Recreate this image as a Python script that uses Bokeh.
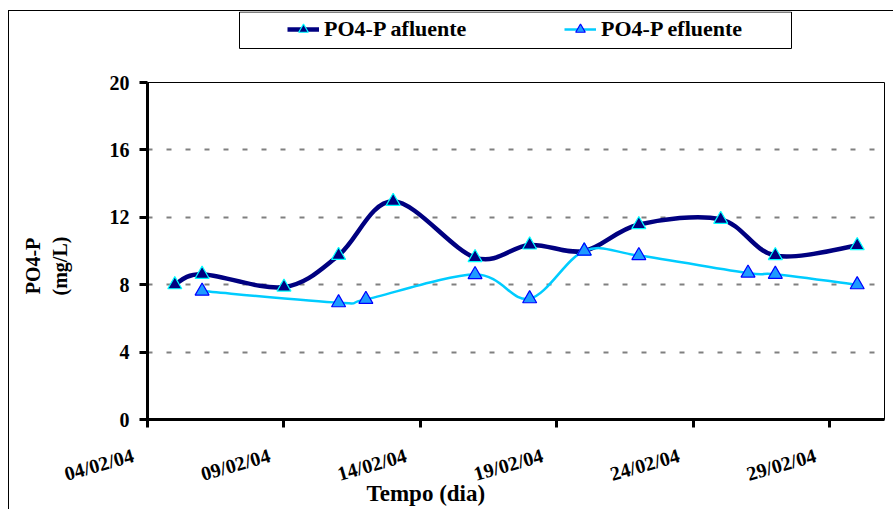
from datetime import datetime
from bokeh.plotting import figure
from bokeh.layouts import column
from bokeh.models import (ColumnDataSource, Range1d, FixedTicker, Legend, LegendItem, Title,
                          BoxAnnotation)
from bokeh.embed import file_html
from bokeh.resources import INLINE

# ---- data ----
afl_dates = ["2004-02-05", "2004-02-06", "2004-02-09", "2004-02-11", "2004-02-13", "2004-02-16",
             "2004-02-18", "2004-02-20", "2004-02-22", "2004-02-25", "2004-02-27", "2004-03-01"]
afl_values = [8.0, 8.62, 7.86, 9.74, 12.95, 9.61, 10.36, 10.0, 11.57, 11.88, 9.73, 10.32]

efl_dates = ["2004-02-06", "2004-02-11", "2004-02-12", "2004-02-16", "2004-02-18", "2004-02-20",
             "2004-02-22", "2004-02-26", "2004-02-27", "2004-03-01"]
efl_values = [7.62, 6.93, 7.13, 8.60, 7.17, 10.0, 9.73, 8.69, 8.62, 8.00]

tick_dates = ["2004-02-04", "2004-02-09", "2004-02-14", "2004-02-19", "2004-02-24", "2004-02-29"]
tick_labels = ["04/02/04", "09/02/04", "14/02/04", "19/02/04", "24/02/04", "29/02/04"]
y_ticks = [0, 4, 8, 12, 16, 20]

x_start, x_end = "2004-02-04", "2004-03-02"
series_names = ["PO4-P afluente", "PO4-P efluente"]
y_title_lines = ["PO4-P", "(mg/L)"]
x_title = "Tempo (dia)"


def ms(s):
    d = datetime.strptime(s, "%Y-%m-%d")
    return (d - datetime(1970, 1, 1)).total_seconds() * 1000.0


def bezier_source(xs, ys):
    # smoothed (Catmull-Rom style) curve expressed as cubic Bezier segments
    n = len(xs)
    d = dict(x0=[], y0=[], x1=[], y1=[], cx0=[], cy0=[], cx1=[], cy1=[])
    for i in range(n - 1):
        p0 = (xs[max(i - 1, 0)], ys[max(i - 1, 0)])
        p1 = (xs[i], ys[i])
        p2 = (xs[i + 1], ys[i + 1])
        p3 = (xs[min(i + 2, n - 1)], ys[min(i + 2, n - 1)])
        d["x0"].append(p1[0]); d["y0"].append(p1[1])
        d["x1"].append(p2[0]); d["y1"].append(p2[1])
        d["cx0"].append(p1[0] + (p2[0] - p0[0]) / 6.0)
        d["cy0"].append(p1[1] + (p2[1] - p0[1]) / 6.0)
        d["cx1"].append(p2[0] - (p3[0] - p1[0]) / 6.0)
        d["cy1"].append(p2[1] - (p3[1] - p1[1]) / 6.0)
    return ColumnDataSource(d)


afl_x = [ms(s) for s in afl_dates]
efl_x = [ms(s) for s in efl_dates]
tick_x = [ms(s) for s in tick_dates]

FONT = "Liberation Serif"
AFL_LINE = "#000080"
AFL_MARK_LINE = "#00FFFF"
EFL_LINE = "#00CCFF"
EFL_FILL = "#1E9BFF"
EFL_MARK_LINE = "#0000FF"
NBSP = "\u00a0"

X_RANGE = (ms(x_start), ms(x_end))

# ---------------- legend strip ----------------
top = figure(width=884, height=38, x_range=Range1d(*X_RANGE), y_range=Range1d(0, 20),
             x_axis_location=None, y_axis_location=None, output_backend="svg",
             toolbar_location=None, min_border_left=138, min_border_right=9,
             min_border_top=0, min_border_bottom=0)
top.grid.visible = False
top.outline_line_color = None
top.background_fill_color = "white"
top.border_fill_color = "white"

# legend box
top.add_layout(BoxAnnotation(left=230, right=782, top=0.5, bottom=37,
                             left_units="canvas", right_units="canvas",
                             top_units="canvas", bottom_units="canvas",
                             fill_alpha=0, line_color="black", line_width=1, line_alpha=1))

# legend sample renderers (the strip's y-range keeps their data out of view)
la_line = top.line(afl_x, afl_values, line_color=AFL_LINE, line_width=4.5)
la_pts = top.scatter(afl_x, afl_values, marker="triangle", size=12, fill_color=AFL_LINE,
                     line_color=AFL_MARK_LINE, line_width=1.2)
le_line = top.line(efl_x, efl_values, line_color=EFL_LINE, line_width=2.5)
le_pts = top.scatter(efl_x, efl_values, marker="triangle", size=12, fill_color=EFL_FILL,
                     line_color=EFL_MARK_LINE, line_width=1.2)
top.y_range = Range1d(100, 120)

legend = Legend(items=[LegendItem(label=series_names[0], renderers=[la_line, la_pts]),
                       LegendItem(label=series_names[1], renderers=[le_line, le_pts])],
                orientation="horizontal", location=(140, 7), padding=0, margin=0,
                spacing=95, glyph_width=32, glyph_height=24, label_standoff=5, label_width=145,
                border_line_alpha=0, background_fill_alpha=0,
                label_text_font=FONT, label_text_font_style="bold", label_text_font_size="22px",
                label_text_color="black")
top.add_layout(legend)

# ---------------- main chart ----------------
p = figure(width=884, height=460, x_axis_type="datetime",
           x_range=Range1d(*X_RANGE), y_range=Range1d(0, 20),
           output_backend="svg", toolbar_location=None,
           min_border_left=138, min_border_right=9, min_border_top=33, min_border_bottom=90)

p.background_fill_color = "white"
p.border_fill_color = "white"
p.outline_line_color = "black"
p.outline_line_width = 1

p.xgrid.grid_line_color = None
p.ygrid.ticker = FixedTicker(ticks=y_ticks[1:-1])
p.ygrid.grid_line_color = "#808080"
p.ygrid.grid_line_width = 2
p.ygrid.grid_line_dash = "5 14"

xa = p.xaxis[0]
xa.ticker = FixedTicker(ticks=tick_x)
# trailing no-break spaces pull each slanted label a little left of its tick, as in the original
xa.major_label_overrides = {t: lab + NBSP * 3 for t, lab in zip(tick_x, tick_labels)}
xa.major_label_orientation = 0.28
xa.axis_line_width = 3
xa.axis_line_color = "black"
xa.major_tick_line_width = 3
xa.major_tick_out = 8
xa.major_tick_in = 0
xa.minor_tick_line_color = None
xa.major_label_text_font = FONT
xa.major_label_text_font_style = "bold"
xa.major_label_text_font_size = "20px"
xa.major_label_text_color = "black"
xa.major_label_standoff = 23

ya = p.yaxis[0]
ya.ticker = FixedTicker(ticks=y_ticks)
ya.axis_line_width = 3
ya.axis_line_color = "black"
ya.major_tick_line_width = 3
ya.major_tick_out = 8
ya.major_tick_in = 0
ya.minor_tick_line_color = None
ya.major_label_text_font = FONT
ya.major_label_text_font_style = "bold"
ya.major_label_text_font_size = "20px"
ya.major_label_text_color = "black"
ya.major_label_standoff = 10
# trailing no-break spaces move the centred, rotated title slightly lower, as in the original
ya.axis_label = "\n".join(line + NBSP * 6 for line in y_title_lines)
ya.axis_label_text_font = FONT
ya.axis_label_text_font_style = "bold"
ya.axis_label_text_font_size = "20px"
ya.axis_label_text_color = "black"
ya.axis_label_standoff = 36

p.add_layout(Title(text=x_title, align="left", offset=219, standoff=-36,
                   vertical_align="top",
                   text_font=FONT, text_font_style="bold", text_font_size="23px",
                   text_color="black"), "below")

p.bezier(x0="x0", y0="y0", x1="x1", y1="y1", cx0="cx0", cy0="cy0", cx1="cx1", cy1="cy1",
         source=bezier_source(afl_x, afl_values), line_color=AFL_LINE, line_width=4.5)
p.bezier(x0="x0", y0="y0", x1="x1", y1="y1", cx0="cx0", cy0="cy0", cx1="cx1", cy1="cy1",
         source=bezier_source(efl_x, efl_values), line_color=EFL_LINE, line_width=2.5)

p.scatter(afl_x, afl_values, marker="triangle", size=14,
          fill_color=AFL_LINE, line_color=AFL_MARK_LINE, line_width=1.2)
p.scatter(efl_x, efl_values, marker="triangle", size=14,
          fill_color=EFL_FILL, line_color=EFL_MARK_LINE, line_width=1.2)

page = column(top, p, spacing=0,
              styles={"border-left": "1px solid black", "border-top": "1px solid black",
                      "margin-left": "8px", "margin-top": "10px"})

open("out.html", "w").write(file_html(page, INLINE))
